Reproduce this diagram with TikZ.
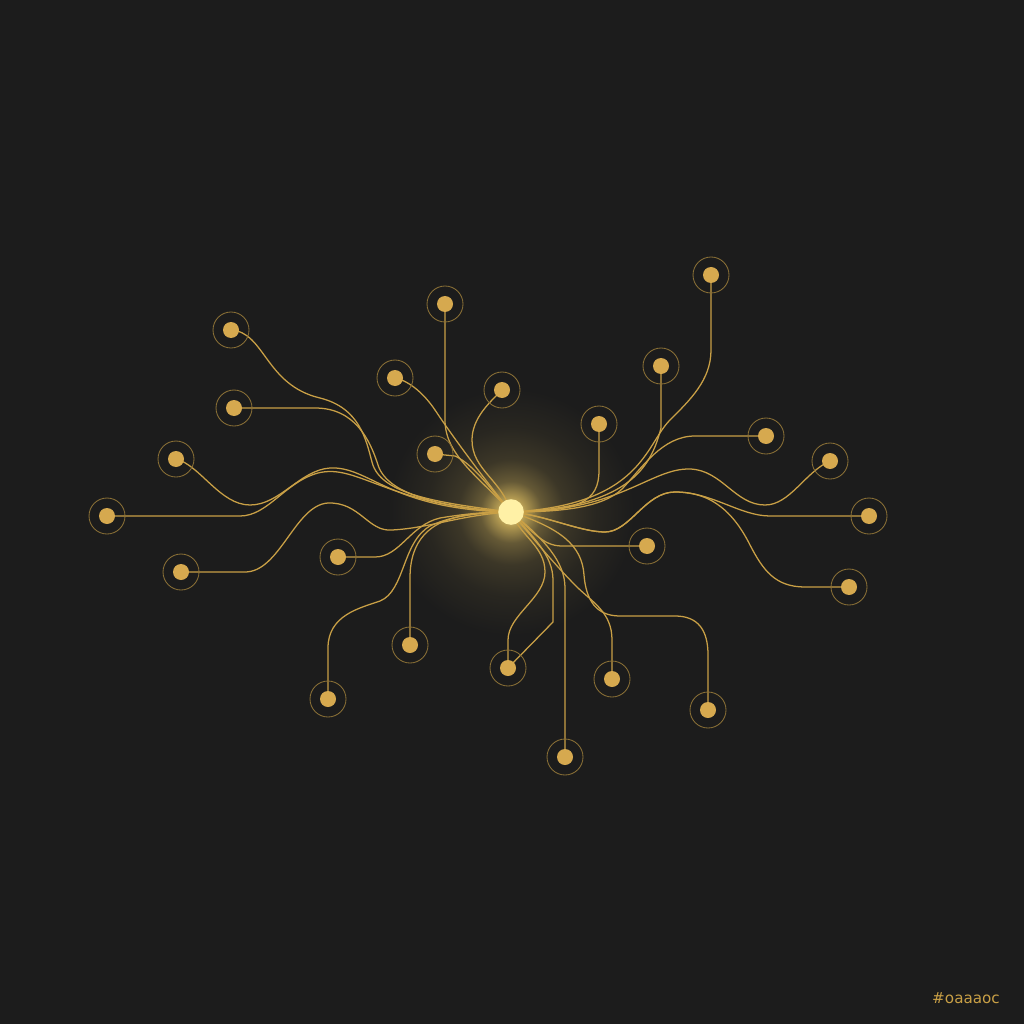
\documentclass[tikz,border=0pt]{standalone}
\usepackage{fontspec}
\newfontfamily\tagfont{DejaVu Sans}
\usetikzlibrary{backgrounds}
\definecolor{bgc}{HTML}{1C1C1C}
\definecolor{dotc}{HTML}{D6A94F}
\definecolor{wirec}{HTML}{C9A046}
\definecolor{ringc}{HTML}{8A7036}
\definecolor{hubc}{HTML}{FFF1A6}
\definecolor{glowc}{HTML}{F2CF68}
\pgfdeclareradialshading{hubglow}{\pgfpoint{0bp}{0bp}}{color(0bp)=(hubc); color(1.6bp)=(glowc!70!bgc); color(3.5bp)=(glowc!34!bgc); color(6bp)=(glowc!15!bgc); color(9.5bp)=(glowc!6!bgc); color(14bp)=(bgc); color(50bp)=(bgc)}

\begin{document}
\begin{tikzpicture}[x=0.25mm, y=-0.25mm,
		sat/.style={circle, draw=ringc, line width=0.6pt, minimum size=9mm, inner sep=0pt,
			path picture={\fill[dotc] (path picture bounding box.center) circle (2mm);}},
		wire/.style={draw=wirec, line width=0.9pt}]
			\useasboundingbox (0, 0) rectangle (1024, 1024);

			\node (hub)[circle, fill=hubc, minimum size=6.4mm, inner sep=0pt] at (511, 512) {};

			\node (s1)[sat] at (231, 330) {};
			\node (s2)[sat] at (234, 408) {};
			\node (s3)[sat] at (176, 459) {};
			\node (s4)[sat] at (107, 516) {};
			\node (s5)[sat] at (181, 572) {};
			\node (s6)[sat] at (338, 557) {};
			\node (s7)[sat] at (410, 645) {};
			\node (s8)[sat] at (328, 699) {};
			\node (s9)[sat] at (445, 304) {};
			\node (s10)[sat] at (395, 378) {};
			\node (s11)[sat] at (502, 390) {};
			\node (s12)[sat] at (435, 454) {};
			\node (s13)[sat] at (599, 424) {};
			\node (s14)[sat] at (661, 366) {};
			\node (s15)[sat] at (711, 275) {};
			\node (s16)[sat] at (766, 436) {};
			\node (s17)[sat] at (830, 461) {};
			\node (s18)[sat] at (869, 516) {};
			\node (s19)[sat] at (849, 587) {};
			\node (s20)[sat] at (647, 546) {};
			\node (s21)[sat] at (612, 679) {};
			\node (s22)[sat] at (708, 710) {};
			\node (s23)[sat] at (565, 757) {};
			\node (s24)[sat] at (508, 668) {};

			\node (tag)[text=wirec, font=\tagfont\fontsize{10.8}{12}\selectfont] at (966, 998) {\#oaaaoc};

			\begin{scope}[on background layer]
				\fill[bgc] (0, 0) rectangle (1024, 1024);
				\shade[shading=hubglow] (hub.center) circle (220);

				\draw[wire] (s1.center) .. controls (265, 332) and (265, 385) .. (320, 398) .. controls (360, 408) and (366, 440) .. (372, 462) .. controls (380, 495) and (440, 503) .. (hub.center);
				\draw[wire] (s2.center) -- (315, 408) .. controls (355, 408) and (370, 440) .. (378, 465) .. controls (388, 497) and (450, 508) .. (hub.center);
				\draw[wire] (s3.center) .. controls (200, 465) and (220, 505) .. (250, 505) .. controls (280, 505) and (300, 470) .. (330, 468) .. controls (370, 466) and (390, 510) .. (hub.center);
				\draw[wire] (s4.center) -- (240, 516) .. controls (268, 516) and (285, 482) .. (318, 473) .. controls (358, 463) and (388, 506) .. (hub.center);
				\draw[wire] (s5.center) -- (245, 572) .. controls (280, 572) and (295, 505) .. (328, 503) .. controls (360, 502) and (368, 532) .. (392, 530) .. controls (430, 528) and (460, 515) .. (hub.center);
				\draw[wire] (s6.center) -- (375, 557) .. controls (400, 557) and (410, 525) .. (440, 518) .. controls (470, 513) and (490, 512) .. (hub.center);
				\draw[wire] (s7.center) -- (410, 578) .. controls (410, 540) and (430, 522) .. (462, 516) .. controls (485, 512) and (500, 512) .. (hub.center);
				\draw[wire] (s8.center) -- (328, 648) .. controls (328, 615) and (360, 608) .. (380, 601) .. controls (405, 591) and (402, 542) .. (430, 526) .. controls (455, 514) and (490, 512) .. (hub.center);
				\draw[wire] (s9.center) -- (445, 420) .. controls (445, 455) and (478, 476) .. (hub.center);
				\draw[wire] (s10.center) .. controls (410, 381) and (425, 395) .. (435, 410) .. controls (455, 440) and (485, 480) .. (hub.center);
				\draw[wire] (s11.center) .. controls (490, 402) and (472, 418) .. (472, 440) .. controls (472, 470) and (502, 480) .. (hub.center);
				\draw[wire] (s12.center) -- (455, 456) .. controls (475, 465) and (495, 495) .. (hub.center);
				\draw[wire] (s13.center) -- (599, 470) .. controls (599, 502) and (580, 511) .. (hub.center);
				\draw[wire] (s14.center) -- (661, 428) .. controls (652, 462) and (635, 508) .. (hub.center);
				\draw[wire] (s15.center) -- (711, 350) .. controls (711, 380) and (690, 400) .. (670, 420) .. controls (645, 445) and (642, 505) .. (hub.center);
				\draw[wire] (s16.center) -- (695, 436) .. controls (662, 436) and (642, 468) .. (622, 489) .. controls (602, 508) and (560, 512) .. (hub.center);
				\draw[wire] (s17.center) .. controls (805, 472) and (790, 505) .. (765, 505) .. controls (735, 505) and (722, 470) .. (690, 469) .. controls (650, 468) and (620, 512) .. (hub.center);
				\draw[wire] (s18.center) -- (770, 516) .. controls (740, 516) and (712, 492) .. (675, 492) .. controls (645, 492) and (630, 532) .. (605, 532) .. controls (580, 532) and (545, 515) .. (hub.center);
				\draw[wire] (s19.center) -- (805, 587) .. controls (775, 587) and (763, 570) .. (750, 545) .. controls (730, 505) and (705, 492) .. (675, 492) .. controls (645, 492) and (630, 532) .. (605, 532) .. controls (580, 532) and (545, 515) .. (hub.center);
				\draw[wire] (s20.center) -- (562, 546) .. controls (542, 546) and (532, 530) .. (hub.center);
				\draw[wire] (s21.center) -- (612, 640) .. controls (612, 612) and (592, 602) .. (576, 586) .. controls (556, 566) and (530, 535) .. (hub.center);
				\draw[wire] (s22.center) -- (708, 655) .. controls (708, 630) and (698, 616) .. (675, 616) -- (620, 616) .. controls (596, 616) and (586, 600) .. (584, 575) .. controls (582, 545) and (560, 528) .. (hub.center);
				\draw[wire] (s23.center) -- (565, 588) .. controls (565, 562) and (545, 540) .. (hub.center);
				\draw[wire] (s24.center) -- (508, 640) .. controls (508, 615) and (545, 598) .. (545, 572) .. controls (545, 546) and (520, 536) .. (hub.center);
				\draw[wire] (s24.center) -- (553, 622) -- (553, 580) .. controls (553, 555) and (532, 536) .. (hub.center);
			\end{scope}
		\end{tikzpicture}
\end{document}
